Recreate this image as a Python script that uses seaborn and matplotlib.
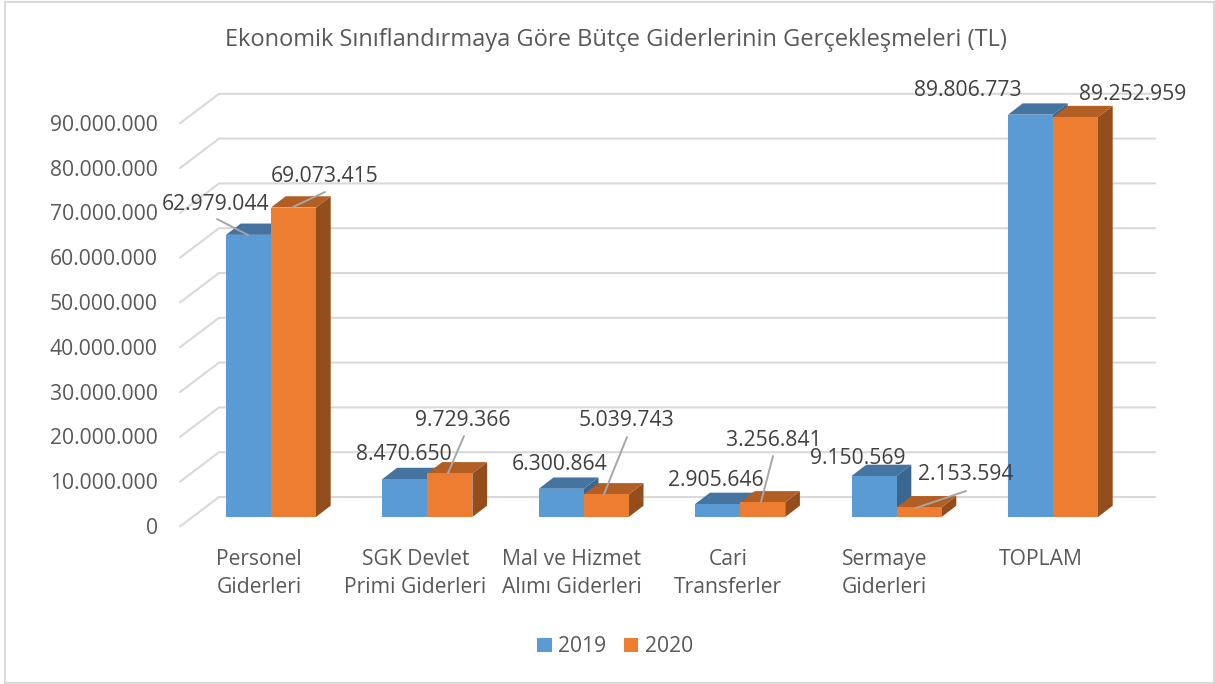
import numpy as np
import pandas as pd
import matplotlib
matplotlib.use("Agg")
import matplotlib.pyplot as plt
from matplotlib.patches import Polygon, Rectangle, Patch
from matplotlib.transforms import Affine2D, ScaledTranslation
import seaborn as sns

# ---- data ----
categories = ["Personel\nGiderleri", "SGK Devlet\nPrimi Giderleri", "Mal ve Hizmet\nAlımı Giderleri",
              "Cari\nTransferler", "Sermaye\nGiderleri", "TOPLAM"]
values_2019 = [62979044, 8470650, 6300864, 2905646, 9150569, 89806773]
values_2020 = [69073415, 9729366, 5039743, 3256841, 2153594, 89252959]
years = ["2019", "2020"]
y_ticks = [0, 10000000, 20000000, 30000000, 40000000, 50000000, 60000000, 70000000, 80000000, 90000000]
title = "Ekonomik Sınıflandırmaya Göre Bütçe Giderlerinin Gerçekleşmeleri (TL)"

# ---- layout (pixels, y down) ----
W, H = 1215, 684
BASE_Y = 517.0
PX_PER_UNIT = 44.8 / 10000000
GROUP_STEP = 156.4
FIRST_CENTER = 271.0
DEPTH = (14.7, 11.3)
label_centers = {
    ("2019", 0): (216, 204), ("2020", 0): (324.5, 176),
    ("2019", 1): (404, 455), ("2020", 1): (463, 421),
    ("2019", 2): (560, 465), ("2020", 2): (626.5, 421),
    ("2019", 3): (715.5, 480), ("2020", 3): (773.5, 440),
    ("2019", 4): (858, 459), ("2020", 4): (965.5, 475),
    ("2019", 5): (968, 91), ("2020", 5): (1133, 95),
}
leaders = [((217, 219), (248, 235)), ((325, 192), (293, 207)),
           ((464, 436), (448, 473)), ((627, 437), (604, 494)),
           ((773, 456), (761, 502)), ((966, 491), (916, 508))]

BLUE, ORANGE = "#5B9BD5", "#ED7D31"
TOP = {"2019": "#44749F", "2020": "#B25E25"}
SIDE = {"2019": "#3A6690", "2020": "#944E1D"}
GRID, TXT, LBL = "#D9D9D9", "#595959", "#404040"
FS = 15.2

sns.set_theme(style="white")
plt.rcParams["font.family"] = ["Open Sans", "DejaVu Sans"]

fig = plt.figure(figsize=(W / 100, H / 100), dpi=100, facecolor="white")
left = FIRST_CENTER - 0.5 * GROUP_STEP
ymax = 100000000
ax = fig.add_axes([left / W, 1 - BASE_Y / H, 6 * GROUP_STEP / W, ymax * PX_PER_UNIT / H])
ax.patch.set_alpha(0)
px = Affine2D().scale(1 / W, -1 / H).translate(0, 1) + fig.transFigure

df = pd.DataFrame({
    "Kategori": categories * 2,
    "Gider": values_2019 + values_2020,
    "Yıl": [years[0]] * len(categories) + [years[1]] * len(categories),
})
sns.barplot(data=df, x="Kategori", y="Gider", hue="Yıl", hue_order=years,
            palette=[BLUE, ORANGE], width=90 / GROUP_STEP, gap=0, saturation=1,
            legend=False, linewidth=0, ax=ax)
ax.set_xlim(-0.5, 5.5)
ax.set_ylim(0, ymax)
ax.set_xlabel("")
ax.set_ylabel("")
sns.despine(ax=ax, left=True, bottom=True)

# 3D depth in data units
ddx = DEPTH[0] / GROUP_STEP
ddy = DEPTH[1] / PX_PER_UNIT
to_x = lambda p: (p - FIRST_CENTER) / GROUP_STEP

# walls: back gridlines with a diagonal stub toward the front
for v in y_ticks:
    ax.plot([to_x(180), to_x(219), to_x(1155)],
            [v - 9.5 / PX_PER_UNIT, v + 20 / PX_PER_UNIT, v + 20 / PX_PER_UNIT],
            color=GRID, lw=1.5, clip_on=False, zorder=1, solid_joinstyle="miter")

for k, (yr, cont) in enumerate(zip(years, ax.containers)):
    for bar in cont:
        x0, w, h = bar.get_x(), bar.get_width(), bar.get_height()
        x1 = x0 + w
        bar.set_zorder(3 + 2 * k)
        ax.add_patch(Polygon([(x1, 0), (x1 + ddx, ddy), (x1 + ddx, h + ddy), (x1, h)],
                             fc=SIDE[yr], ec="none", clip_on=False, zorder=2 + 2 * k))
        ax.add_patch(Polygon([(x0, h), (x0 + ddx, h + ddy), (x1 + ddx, h + ddy), (x1, h)],
                             fc=TOP[yr], ec="none", clip_on=False, zorder=2 + 2 * k))

# ticks
ax.set_yticks(y_ticks)
ax.set_yticklabels([f"{v:,}".replace(",", ".") for v in y_ticks])
ax.tick_params(axis="y", length=0, labelsize=FS, labelcolor=TXT, pad=0)
for lab in ax.get_yticklabels():
    lab.set_transform(lab.get_transform() + ScaledTranslation((158 - left) / 100, -9 / 100, fig.dpi_scale_trans))
ax.tick_params(axis="x", length=0, labelsize=FS, labelcolor=TXT, pad=23)
for lab in ax.get_xticklabels():
    lab.set_linespacing(1.45)
    lab.set_verticalalignment("top")
    lab.set_transform(lab.get_transform() + ScaledTranslation(-12 / 100, 0, fig.dpi_scale_trans))

# value labels
for yr, vals in zip(years, [values_2019, values_2020]):
    for i, v in enumerate(vals):
        cx, cy = label_centers[(yr, i)]
        fig.text(cx, cy, f"{v:,}".replace(",", "."), transform=px, ha="center", va="center",
                 fontsize=FS, color=LBL, zorder=20)
for (a, b) in leaders:
    fig.add_artist(plt.Line2D([a[0], b[0]], [a[1], b[1]], transform=px, color="#A6A6A6", lw=1.4, zorder=19))

# title
fig.text(616, 40, title, transform=px, ha="center", va="center", fontsize=17.0, color=TXT)

# legend
handles = [Patch(fc=BLUE, ec="none"), Patch(fc=ORANGE, ec="none")]
fig.legend(handles, years, ncols=2, loc="center", bbox_to_anchor=(615 / W, 1 - 647 / H),
           frameon=False, fontsize=FS, labelcolor=TXT, handlelength=0.68, handleheight=0.68,
           handletextpad=0.3, columnspacing=0.85, borderpad=0, borderaxespad=0)

# chart border
fig.add_artist(Rectangle((5, 1.5), 1209, 681, transform=px, fc="none", ec=GRID, lw=1.5, zorder=30))

fig.savefig("out.png", dpi=100)
